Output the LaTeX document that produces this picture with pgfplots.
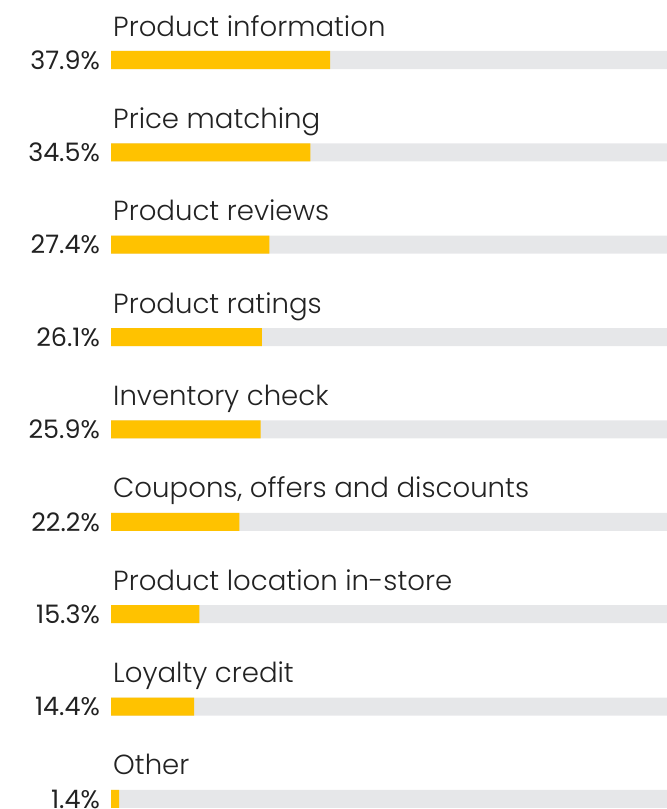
\documentclass[border=0pt]{standalone}
\usepackage{fontspec}
\setmainfont{Poppins}
\newfontfamily\lightfont{Poppins}[UprightFont={* Light}]
\usepackage{pgfplots}
\pgfplotsset{compat=1.18}
\definecolor{baryellow}{HTML}{FFC200}
\definecolor{track}{HTML}{E6E7E9}
\definecolor{txt}{HTML}{222222}
\begin{document}
\begin{tikzpicture}
\useasboundingbox (0,0) rectangle (667bp,809bp);
\clip (0,0) rectangle (667bp,809bp);
\begin{axis}[
  at={(111bp,749bp)}, anchor=north west,
  scale only axis, width=578bp, height=739bp,
  xmin=0, xmax=100, ymin=0, ymax=8, y dir=reverse,
  clip=false, axis lines=none,
  xbar, bar width=18bp, bar shift=0pt,
  ytick={0,...,8},
  yticklabels={37.9\%,34.5\%,27.4\%,26.1\%,25.9\%,22.2\%,15.3\%,14.4\%,1.4\%},
  xtick=\empty,
]
\addplot[fill=track, draw=none] coordinates {(100,0) (100,1) (100,2) (100,3) (100,4) (100,5) (100,6) (100,7) (100,8)};
\addplot[fill=baryellow, draw=none] coordinates {(37.9,0) (34.5,1) (27.4,2) (26.1,3) (25.9,4) (22.2,5) (15.3,6) (14.4,7) (1.4,8)};
\foreach \lab [count=\i from 0] in {Product information,Price matching,Product reviews,Product ratings,Inventory check,{Coupons, offers and discounts},Product location in-store,Loyalty credit,Other}{
  \edef\temp{\noexpand\node[anchor=base west, inner sep=0pt, text=txt, font=\noexpand\lightfont\noexpand\fontsize{27.7}{32}\noexpand\selectfont] at ([xshift=2bp,yshift=24bp]axis cs:0,\i) {\noexpand\strut\lab};}
  \temp
}
\end{axis}
\foreach \p [count=\i from 0] in {37.9\%,34.5\%,27.4\%,26.1\%,25.9\%,22.2\%,15.3\%,14.4\%,1.4\%}{
  \node[anchor=east, inner sep=0pt, text=txt, font=\fontsize{25.5}{28}\selectfont] at (100bp,{749bp-\i*92.375bp}) {\p};
}
\end{tikzpicture}
\end{document}
